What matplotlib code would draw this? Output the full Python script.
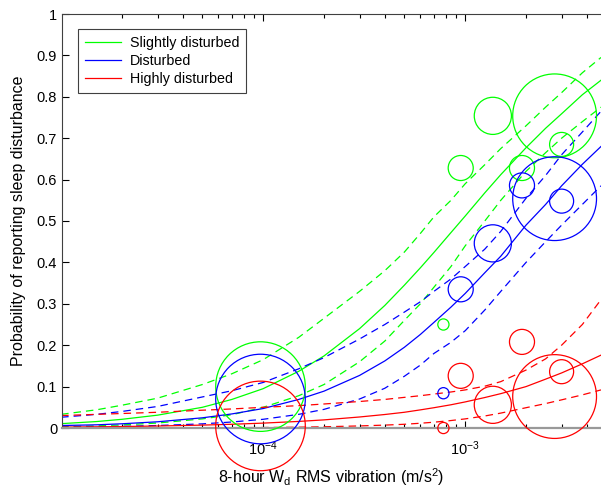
import matplotlib
matplotlib.use("Agg")
import matplotlib.pyplot as plt
import numpy as np

plt.rcParams['font.family'] = ['Liberation Sans', 'DejaVu Sans']
plt.rcParams['mathtext.fontset'] = 'custom'
plt.rcParams['mathtext.rm'] = 'Liberation Sans'
plt.rcParams['mathtext.it'] = 'Liberation Sans:italic'
plt.rcParams['font.size'] = 10

# fitted curves (x in m/s^2)
vib = [1e-5, 1.5e-5, 2e-5, 3e-5, 5e-5, 7e-5, 1e-4, 1.5e-4, 2e-4, 3e-4, 4e-4, 5e-4,
       6e-4, 7e-4, 8.5e-4, 1e-3, 1.25e-3, 1.5e-3, 2e-3, 2.5e-3, 3e-3, 3.8e-3, 4.7e-3]

slight_fit = [0.0105, 0.0156, 0.021, 0.031, 0.05, 0.069, 0.095, 0.137, 0.174, 0.24, 0.296, 0.345,
              0.387, 0.424, 0.472, 0.512, 0.568, 0.612, 0.677, 0.724, 0.759, 0.805, 0.84]
slight_hi = [0.033, 0.044, 0.055, 0.072, 0.105, 0.131, 0.165, 0.219, 0.265, 0.33, 0.38, 0.425,
             0.47, 0.51, 0.55, 0.59, 0.636, 0.675, 0.73, 0.775, 0.81, 0.858, 0.895]
slight_lo = [0.0033, 0.0052, 0.0075, 0.012, 0.022, 0.032, 0.05, 0.078, 0.105, 0.16, 0.21, 0.26,
             0.30, 0.34, 0.39, 0.44, 0.50, 0.55, 0.62, 0.665, 0.70, 0.74, 0.775]

dist_fit = [0.006, 0.0077, 0.0102, 0.015, 0.0246, 0.034, 0.047, 0.069, 0.089, 0.127, 0.162, 0.195,
            0.226, 0.255, 0.292, 0.325, 0.375, 0.415, 0.49, 0.54, 0.585, 0.637, 0.68]
dist_hi = [0.026, 0.033, 0.04, 0.052, 0.075, 0.09, 0.11, 0.143, 0.17, 0.215, 0.25, 0.28,
           0.305, 0.33, 0.36, 0.39, 0.432, 0.475, 0.555, 0.61, 0.66, 0.715, 0.765]
dist_lo = [0.002, 0.003, 0.004, 0.006, 0.010, 0.0145, 0.021, 0.033, 0.045, 0.07, 0.096, 0.125,
           0.152, 0.18, 0.207, 0.235, 0.285, 0.33, 0.40, 0.45, 0.49, 0.54, 0.585]

high_fit = [0.0021, 0.0029, 0.0035, 0.0048, 0.007, 0.009, 0.0118, 0.0159, 0.0196, 0.0266, 0.0326, 0.038,
            0.0438, 0.049, 0.0561, 0.063, 0.0736, 0.083, 0.10, 0.118, 0.133, 0.155, 0.176]
high_hi = [0.030, 0.033, 0.035, 0.038, 0.043, 0.046, 0.050, 0.054, 0.058, 0.064, 0.069, 0.074,
           0.078, 0.082, 0.087, 0.092, 0.101, 0.112, 0.14, 0.167, 0.20, 0.25, 0.31]
high_lo = [0.0001, 0.00015, 0.0002, 0.0003, 0.0006, 0.0008, 0.0012, 0.002, 0.003, 0.005, 0.007, 0.009,
           0.0115, 0.014, 0.018, 0.022, 0.029, 0.036, 0.049, 0.059, 0.068, 0.08, 0.092]

# observed proportions, circle area ~ group weight
obs_x = [9.7e-5, 7.8e-4, 9.5e-4, 1.37e-3, 1.91e-3, 2.77e-3, 3.0e-3]
obs_n = [64, 1, 5, 11, 5, 56, 4.6]
obs_slight = [0.10, 0.25, 0.628, 0.754, 0.628, 0.754, 0.685]
obs_dist = [0.07, 0.084, 0.335, 0.446, 0.586, 0.554, 0.548]
obs_high = [0.005, 0.0, 0.126, 0.056, 0.208, 0.076, 0.136]

green = '#00ff00'
blue = '#0000ff'
red = '#ff0000'

fig = plt.figure(figsize=(6.01, 4.98), dpi=100)
ax = fig.add_axes([62/601, 70/498, 539/601, 414/498])

lw = 0.9
dash = (6, 4)
groups = [
    (slight_fit, slight_hi, slight_lo, obs_slight, green, 'Slightly disturbed'),
    (dist_fit, dist_hi, dist_lo, obs_dist, blue, 'Disturbed'),
    (high_fit, high_hi, high_lo, obs_high, red, 'Highly disturbed'),
]
for fit, hi, lo, obs, c, lab in groups:
    ax.plot(vib, fit, color=c, lw=lw, label=lab)
    ax.plot(vib, hi, color=c, lw=lw, dashes=dash)
    ax.plot(vib, lo, color=c, lw=lw, dashes=dash)
for fit, hi, lo, obs, c, lab in groups:
    ax.scatter(obs_x, obs, s=[65 * n for n in obs_n], facecolors='none',
               edgecolors=c, linewidths=0.9, clip_on=False, zorder=3)

ax.set_xscale('log')
ax.set_xlim(1.01e-5, 4.7e-3)
ax.set_ylim(0, 1)
ax.set_yticks(np.arange(0, 1.01, 0.1))
ax.set_yticklabels(['0', '0.1', '0.2', '0.3', '0.4', '0.5', '0.6', '0.7', '0.8', '0.9', '1'])

ax.tick_params(which='both', direction='in', top=True, right=False, labelsize=10.5)
ax.tick_params(which='major', length=5, width=0.8)
ax.tick_params(which='minor', length=3, width=0.8)
ax.tick_params(axis='x', pad=8)
ax.spines['right'].set_visible(False)
for s in ['left', 'top']:
    ax.spines[s].set_color('0.25')
    ax.spines[s].set_linewidth(0.8)
ax.spines['bottom'].set_color('0.6')
ax.spines['bottom'].set_linewidth(1.6)

ax.set_xlabel(r'8-hour W$_\mathregular{d}$ RMS vibration (m/s$^\mathregular{2}$)', fontsize=11.5, labelpad=6)
ax.set_ylabel('Probability of reporting sleep disturbance', fontsize=11.5, labelpad=8)

leg = ax.legend(loc='upper left', bbox_to_anchor=(16/539, 1 - 15/414), handlelength=2.5,
                fancybox=False, edgecolor='0.25', framealpha=1, labelspacing=0.28,
                borderpad=0.5, handletextpad=0.6, fontsize=10.3, borderaxespad=0)
leg.get_frame().set_linewidth(0.8)

fig.savefig('out.png', dpi=100)
